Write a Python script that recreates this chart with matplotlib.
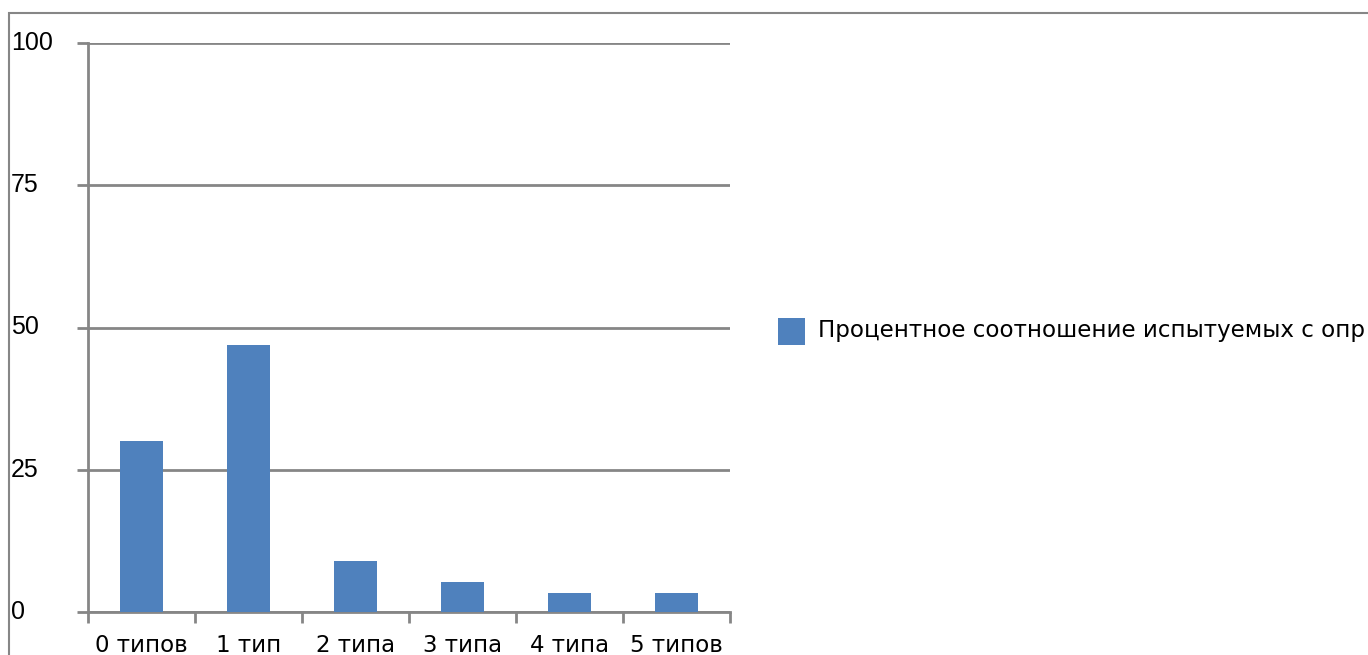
import matplotlib.pyplot as plt
from matplotlib.patches import Rectangle

categories = ['0 типов', '1 тип', '2 типа', '3 типа', '4 типа', '5 типов']
values = [30.1, 47.0, 9.0, 5.3, 3.4, 3.4]
yticks = [0, 25, 50, 75, 100]
# the legend entry is cut by the chart edge in the original
series_name = 'Процентное соотношение испытуемых с опр'

W, H = 1368, 655
fig = plt.figure(figsize=(W / 100, H / 100), dpi=100)
ax = fig.add_axes([88 / W, 43 / H, (730 - 88) / W, (612 - 43) / H])

grey = '#868686'
x = list(range(len(categories)))
ax.bar(x, values, width=0.4, color='#4F81BD', zorder=3)

ax.set_xlim(-0.5, len(categories) - 0.5)
ax.set_ylim(0, 100)
ax.set_yticks(yticks)
ax.set_yticklabels([])
for y in yticks:
    ax.axhline(y, color=grey, lw=2, zorder=1)
    fig.text(11 / W, 1 - (612 - y * 5.69) / H, str(y), ha='left', va='center',
             fontsize=18, family='Liberation Sans')

ax.set_xticks([i - 0.5 for i in range(len(categories) + 1)])
ax.set_xticklabels([])
ax.set_xticks(x, minor=True)
ax.set_xticklabels(categories, minor=True, fontsize=16.5, family='DejaVu Sans')
ax.tick_params(axis='x', which='major', direction='out', length=8, width=2, color=grey)
ax.tick_params(axis='x', which='minor', length=0, pad=16)
ax.tick_params(axis='y', direction='out', length=8, width=2, color=grey)

for s in ['top', 'right']:
    ax.spines[s].set_visible(False)
for s in ['left', 'bottom']:
    ax.spines[s].set_color(grey)
    ax.spines[s].set_linewidth(2)

# outer chart frame (only top and left edges visible)
fig.patches.append(Rectangle((9 / W, -0.1), 1.2, 1 - 13 / H + 0.1, transform=fig.transFigure,
                             fill=False, edgecolor=grey, lw=1.5))

# legend
fig.patches.append(Rectangle((778 / W, 1 - 345 / H), 27 / W, 27 / H, transform=fig.transFigure,
                             facecolor='#4F81BD', edgecolor='none'))
fig.text(818 / W, 1 - 331 / H, series_name, ha='left', va='center', fontsize=16.6,
         family='DejaVu Sans')

fig.savefig('out.png', dpi=100)
